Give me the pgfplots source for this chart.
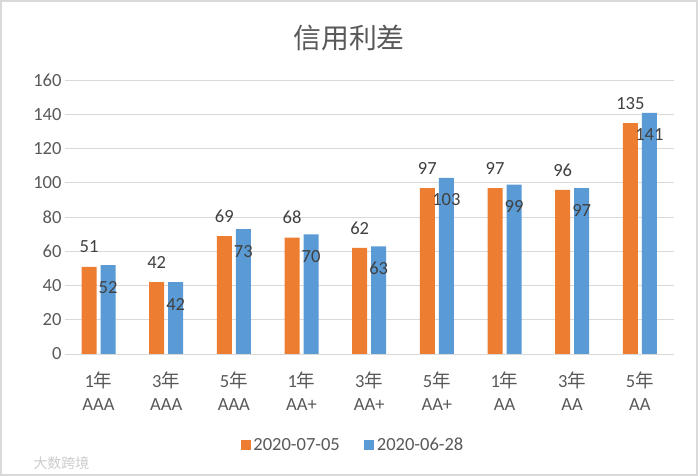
\documentclass[border=0pt]{standalone}
\usepackage{pgfplots}
\pgfplotsset{compat=1.18}
\usepackage{fontspec}
\setmainfont{Carlito}
\newfontfamily\cjk{Noto Sans CJK SC}
\definecolor{orangebar}{HTML}{ED7D31}
\definecolor{bluebar}{HTML}{5B9BD5}
\definecolor{gridc}{HTML}{D9D9D9}
\definecolor{txt}{HTML}{595959}
\definecolor{lbl}{HTML}{404040}
\begin{document}
\begin{tikzpicture}
\useasboundingbox (0bp,0bp) rectangle (698bp,476bp);
\fill[white] (0bp,0bp) rectangle (698bp,476bp);
\draw[gridc, line width=2bp] (1bp,1bp) rectangle (697bp,475bp);
\node[text=txt, font=\cjk\fontsize{28}{34}\selectfont] at (349bp,438bp) {信用利差};
\node[text=gray!40, font=\cjk\fontsize{14}{16}\selectfont, anchor=west] at (30bp,13bp) {大数跨境};
\begin{axis}[
  at={(64.7bp,122bp)}, anchor=south west,
  scale only axis, width=609bp, height=273.6bp,
  ybar=4bp, bar width=15bp,
  xmin=-0.5, xmax=8.5, ymin=0, ymax=160,
  ytick={0,20,...,160},
  xtick={0,...,8},
  xticklabels={{1{\cjk 年}\\AAA},{3{\cjk 年}\\AAA},{5{\cjk 年}\\AAA},{1{\cjk 年}\\AA+},{3{\cjk 年}\\AA+},{5{\cjk 年}\\AA+},{1{\cjk 年}\\AA},{3{\cjk 年}\\AA},{5{\cjk 年}\\AA}},
  axis line style={draw=none},
  major tick length=0pt,
  ymajorgrids, grid style={gridc, line width=1bp},
  /pgf/number format/assume math mode=true,
  tick label style={font=\fontsize{18.6}{23.5}\selectfont, text=txt},
  yticklabel style={inner sep=0pt, xshift=-3bp},
  xticklabel style={align=center, yshift=-14bp},
  every node near coord/.append style={font=\fontsize{18.6}{22}\selectfont, text=lbl, inner sep=0pt, anchor=center},
  legend style={at={(axis description cs:0.474,-0.333)}, anchor=center, draw=none, fill=none,
     font=\fontsize{18.6}{22}\selectfont, text=txt, legend columns=2,
     nodes={inner sep=2.5bp},
     /tikz/every even column/.append style={column sep=22bp}},
  legend image code/.code={\fill[#1] (0bp,-5bp) rectangle (10bp,5bp);},
]
\addplot[fill=orangebar, draw=none, nodes near coords, every node near coord/.append style={yshift=20bp}]
  coordinates {(0,51) (1,42) (2,69) (3,68) (4,62) (5,97) (6,97) (7,96) (8,135)};
\addplot[fill=bluebar, draw=none, nodes near coords, every node near coord/.append style={yshift=-22bp}]
  coordinates {(0,52) (1,42) (2,73) (3,70) (4,63) (5,103) (6,99) (7,97) (8,141)};
\legend{2020-07-05, 2020-06-28}
\end{axis}
\end{tikzpicture}
\end{document}
